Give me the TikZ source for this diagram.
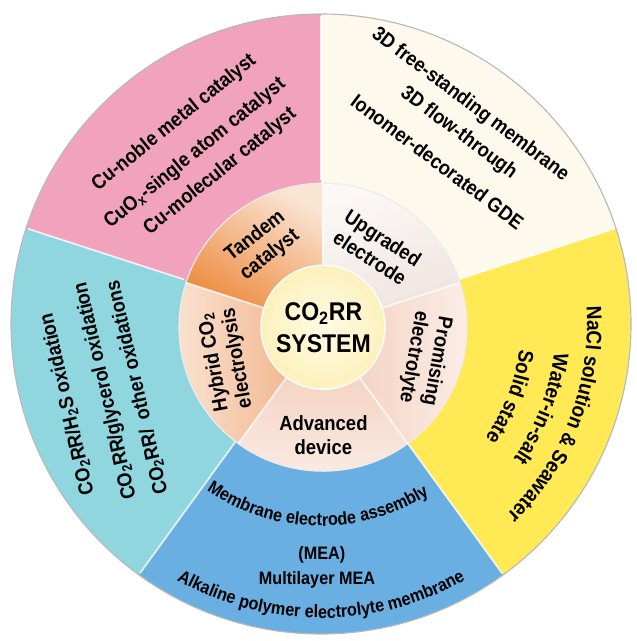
\documentclass[tikz,border=0pt]{standalone}
\usepackage{fontspec}
\setmainfont{Liberation Sans}[FakeStretch=0.9]
\usetikzlibrary{decorations.text}
\definecolor{PinkCol}{RGB}{241,162,189}
\definecolor{TealCol}{RGB}{144,214,223}
\definecolor{BlueCol}{RGB}{106,175,226}
\definecolor{YellowCol}{RGB}{255,233,84}
\definecolor{CreamCol}{RGB}{253,249,236}
\definecolor{TandemDark}{RGB}{236,132,52}
\definecolor{TandemLight}{RGB}{250,228,210}
\definecolor{UpgradeDark}{RGB}{238,226,222}
\definecolor{UpgradeLight}{RGB}{252,248,246}
\definecolor{PromiseDark}{RGB}{243,204,184}
\definecolor{PromiseLight}{RGB}{251,240,234}
\definecolor{DeviceDark}{RGB}{242,200,180}
\definecolor{DeviceLight}{RGB}{250,236,228}
\definecolor{HybridDark}{RGB}{240,172,126}
\definecolor{HybridLight}{RGB}{250,230,214}
\definecolor{CoreCol}{RGB}{252,241,188}
\definecolor{CoreLight}{RGB}{255,251,228}
\tikzstyle{outtxt} = [font=\bfseries\fontsize{14.4}{17}\selectfont, inner sep=0pt]
\tikzstyle{midtxt} = [font=\bfseries\fontsize{14.6}{17}\selectfont, align=center, inner sep=0pt]
\tikzstyle{devtxt} = [font=\bfseries\fontsize{12.8}{15}\selectfont, inner sep=0pt]
\tikzstyle{coretxt} = [font=\bfseries\fontsize{18.2}{22.5}\selectfont, align=center, inner sep=0pt]
\tikzstyle{ridge} = [white, line width=1.2pt, opacity=0.8]

\begin{document}
\begin{tikzpicture}
                    \useasboundingbox (-8.025,-7.925) rectangle (7.875,8.1);

                    % outer ring
                    \fill[PinkCol] (0,0) -- (90:7.75) arc[start angle=90, end angle=162, radius=7.75] -- cycle;
                    \fill[TealCol] (0,0) -- (162:7.75) arc[start angle=162, end angle=234, radius=7.75] -- cycle;
                    \fill[BlueCol] (0,0) -- (234:7.75) arc[start angle=234, end angle=306, radius=7.75] -- cycle;
                    \fill[YellowCol] (0,0) -- (306:7.75) arc[start angle=306, end angle=378, radius=7.75] -- cycle;
                    \fill[CreamCol] (0,0) -- (18:7.75) arc[start angle=18, end angle=90, radius=7.75] -- cycle;
                    \draw[gray!55, line width=0.8pt] (0,0) circle (7.75);
                    \draw[ridge] (90:3.6) -- (90:7.7);
                    \draw[ridge] (162:3.6) -- (162:7.7);
                    \draw[ridge] (234:3.6) -- (234:7.7);
                    \draw[ridge] (306:3.6) -- (306:7.7);
                    \draw[ridge] (18:3.6) -- (18:7.7);

                    \begin{scope}[shift={(0.05,-0.08)}]
                    % middle ring
                    \shade[top color=TandemLight, bottom color=TandemDark, shading angle=-30] (0,0) -- (90:3.6) arc[start angle=90, end angle=162, radius=3.6] -- cycle;
                    \shade[left color=HybridLight, right color=HybridDark] (0,0) -- (162:3.6) arc[start angle=162, end angle=234, radius=3.6] -- cycle;
                    \shade[top color=DeviceDark, bottom color=DeviceLight] (0,0) -- (234:3.6) arc[start angle=234, end angle=306, radius=3.6] -- cycle;
                    \shade[left color=PromiseDark, right color=PromiseLight] (0,0) -- (306:3.6) arc[start angle=306, end angle=378, radius=3.6] -- cycle;
                    \shade[top color=UpgradeLight, bottom color=UpgradeDark, shading angle=20] (0,0) -- (18:3.6) arc[start angle=18, end angle=90, radius=3.6] -- cycle;
                    \draw[white!85!gray, line width=0.8pt] (0,0) circle (3.6);
                    \draw[ridge] (90:1.55) -- (90:3.6);
                    \draw[ridge] (162:1.55) -- (162:3.6);
                    \draw[ridge] (234:1.55) -- (234:3.6);
                    \draw[ridge] (306:1.55) -- (306:3.6);
                    \draw[ridge] (18:1.55) -- (18:3.6);

                    % core
                    \shade[inner color=CoreLight, outer color=CoreCol] (0,0) circle (1.55);
                    \draw[white, line width=1pt] (0,0) circle (1.55);
                    \end{scope}
                    \node[coretxt] (core) at (0.06,-0.09) {CO\textsubscript{2}RR\\SYSTEM};

                    \node[midtxt, rotate=38] (tandem) at (-1.46,1.96) {Tandem\\catalyst};
                    \node[midtxt, rotate=-33] (upgrade) at (1.39,1.90) {Upgraded\\electrode};
                    \node[midtxt, rotate=-100] (promise) at (2.6,-0.88) {Promising\\electrolyte};
                    \node[midtxt] (device) at (0.06,-2.78) {Advanced\\device};
                    \node[midtxt, rotate=100] (hybrid) at (-2.38,-0.90) {Hybrid CO\textsubscript{2}\\electrolysis};

                    % catalysts
                    \node[outtxt, rotate=39] (catA) at (-3.67,5.03) {Cu-noble metal catalyst};
                    \node[outtxt, rotate=39] (catB) at (-3.15,4.27) {CuO\textsubscript{x}-single atom catalyst};
                    \node[outtxt, rotate=39] (catC) at (-2.52,3.81) {Cu-molecular catalyst};

                    % electrodes
                    \node[outtxt, rotate=-37] (elecA) at (3.73,5.48) {3D free-standing  membrane};
                    \node[outtxt, rotate=-37] (elecB) at (3.44,4.77) {3D flow-through};
                    \node[outtxt, rotate=-37] (elecC) at (2.91,4.06) {Ionomer-decorated GDE};

                    % hybrid electrolysis
                    \node[outtxt, rotate=103] (hybA) at (-6.34,-2.00) {CO\textsubscript{2}RR/H\textsubscript{2}S oxidation};
                    \node[outtxt, rotate=103] (hybB) at (-5.38,-1.67) {CO\textsubscript{2}RR/glycerol oxidation};
                    \node[outtxt, rotate=103] (hybC) at (-4.59,-1.59) {CO\textsubscript{2}RR/\ \ other oxidations};

                    % electrolytes
                    \path[decorate, decoration={text along path, text align=center,
                        text={|\bfseries\fontsize{15}{17}\selectfont|NaCl solution  {\&} Seawater}}]
                        (29:6.65) arc[start angle=29, end angle=-71, radius=6.65];
                    \path[decorate, decoration={text along path, text align=center,
                        text={|\bfseries\fontsize{15}{17}\selectfont|Water-in-salt}}]
                        (29:5.875) arc[start angle=29, end angle=-71, radius=5.875];
                    \path[decorate, decoration={text along path, text align=center,
                        text={|\bfseries\fontsize{15}{17}\selectfont|Solid state}}]
                        (29:5.0) arc[start angle=29, end angle=-71, radius=5.0];

                    % devices
                    \path[decorate, decoration={text along path, text align=center,
                        text={|\bfseries\fontsize{12.8}{15}\selectfont|Membrane electrode assembly}}]
                        (-146:5.05) arc[start angle=-146, end angle=-36, radius=5.05];
                    \node[devtxt] (mea) at (0.02,-5.78) {(MEA)};
                    \node[devtxt] (multi) at (-0.1,-6.4) {Multilayer MEA};
                    \path[decorate, decoration={text along path, text align=center,
                        text={|\bfseries\fontsize{12.8}{15}\selectfont|Alkaline polymer electrolyte membrane}}]
                        (-150:7.35) arc[start angle=-150, end angle=-30, radius=7.35];

\end{tikzpicture}
\end{document}
